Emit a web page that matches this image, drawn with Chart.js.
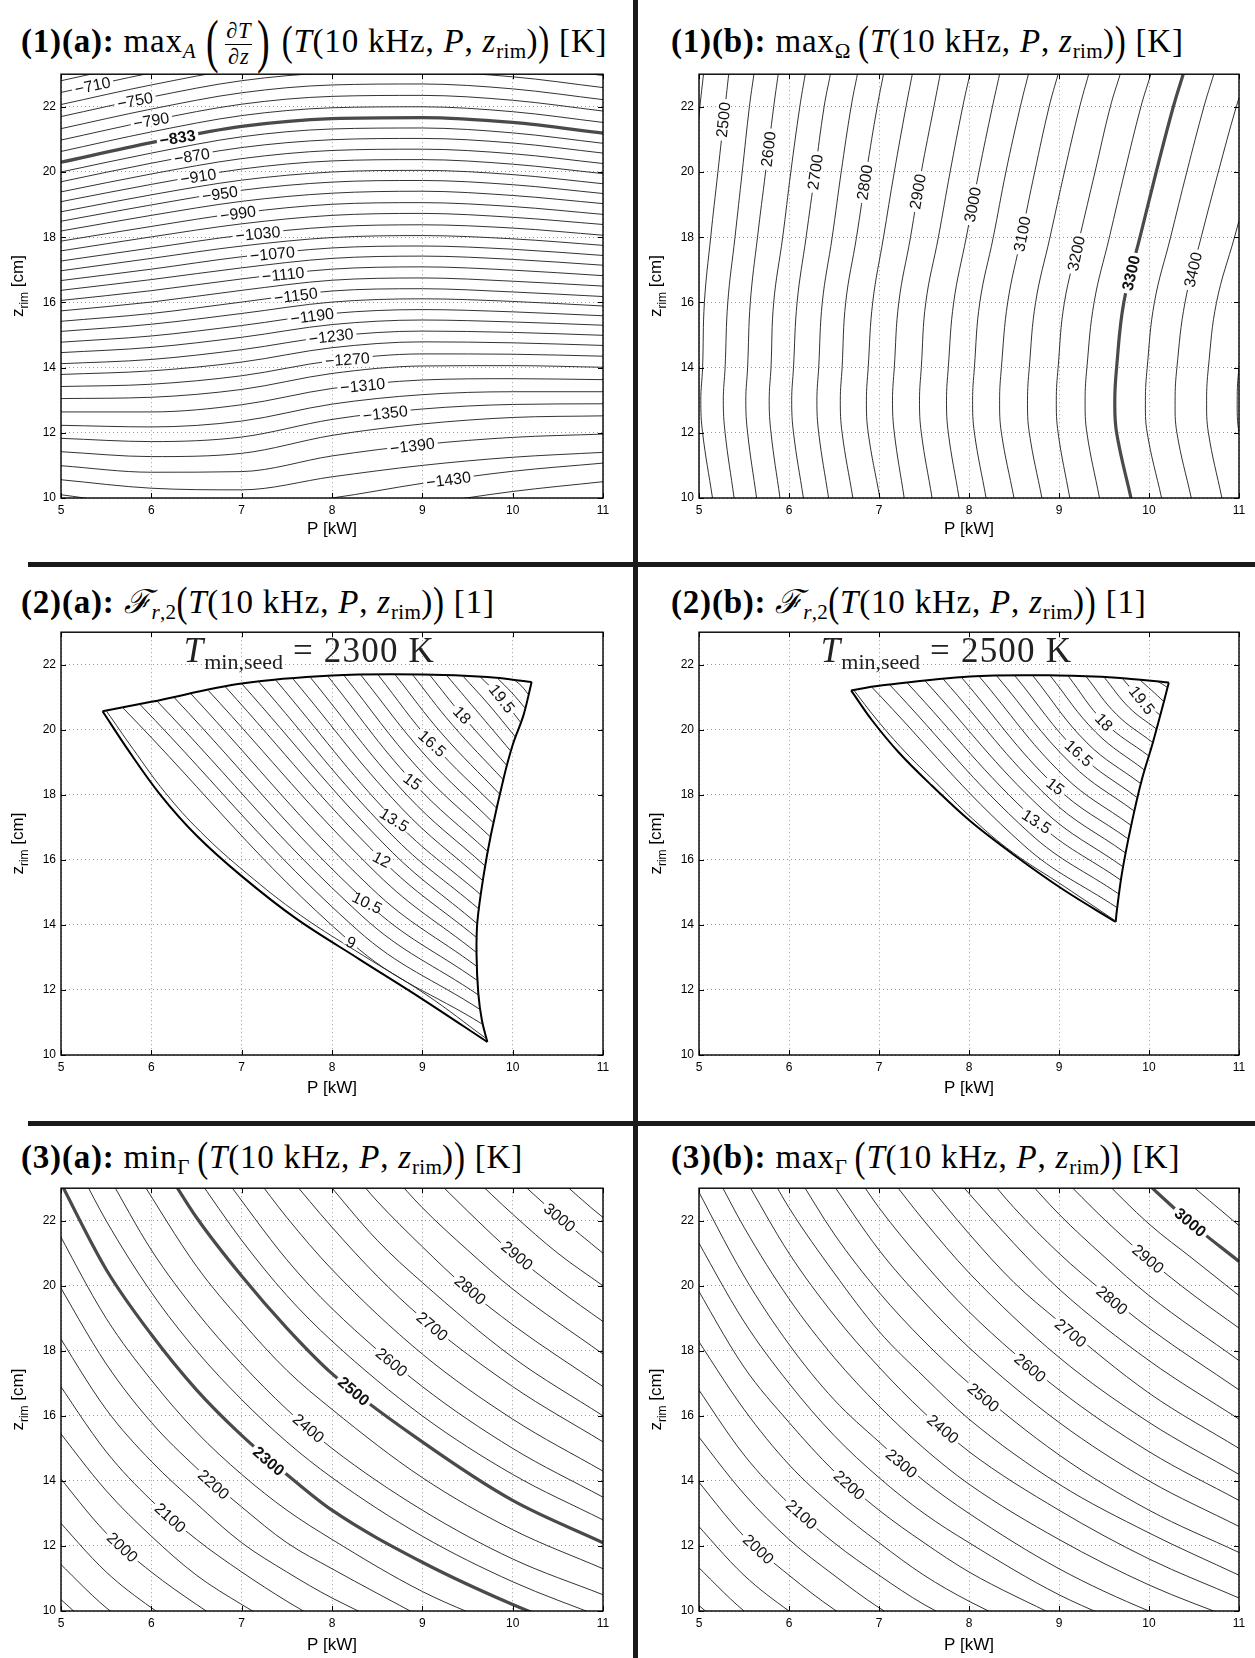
<!DOCTYPE html>
<html>
<head>
<meta charset="utf-8">
<title>Contour panels</title>
<script src="https://cdn.jsdelivr.net/npm/chart.js@4.4.1/dist/chart.umd.min.js"></script>
<style>
  html, body { margin: 0; padding: 0; background: #fff; }
  body { position: relative; width: 1255px; height: 1658px; overflow: hidden; }
  canvas { position: absolute; }
  .sep { position: absolute; background: #1a1a1a; }
  .t { position: absolute; font-family: "Liberation Serif", "DejaVu Serif", serif; font-size: 33px; letter-spacing: 0.8px; line-height: 44px; white-space: nowrap; color: #000; }
  .t sub { font-size: 0.64em; position: relative; top: 0.28em; vertical-align: baseline; line-height: 0; letter-spacing: 0.3px; }
  .bp { display: inline-block; transform: scaleY(1.3); }
  .bpl { display: inline-block; transform: scale(1.15, 1.8); margin: 0 4px; }
  .frac { display: inline-block; vertical-align: middle; text-align: center; font-size: 0.68em; line-height: 1.1; margin: 0 2px; }
  .frac span { display: block; padding: 0 1px; }
  .frac .n { border-bottom: 1px solid #000; }
</style>
</head>
<body>
<div class="sep" style="left:633px;top:0;width:5px;height:1658px"></div>
<div class="sep" style="left:28px;top:562px;width:1227px;height:5px"></div>
<div class="sep" style="left:28px;top:1121px;width:1227px;height:5px"></div>

<div class="t" style="left:21px;top:19px"><b>(1)(a):</b>&nbsp;max<sub><i>A</i></sub>&thinsp;<span class="bpl">(</span><span class="frac"><span class="n"><i>∂T</i></span><span><i>∂z</i></span></span><span class="bpl">)</span>&thinsp;<span class="bp">(</span><i>T</i>(10&nbsp;kHz, <i>P</i>, <i>z</i><sub>rim</sub>)<span class="bp">)</span>&nbsp;[K]</div>
<div class="t" style="left:671px;top:19px"><b>(1)(b):</b>&nbsp;max<sub>Ω</sub>&thinsp;<span class="bp">(</span><i>T</i>(10&nbsp;kHz, <i>P</i>, <i>z</i><sub>rim</sub>)<span class="bp">)</span>&nbsp;[K]</div>
<div class="t" style="left:21px;top:580px"><b>(2)(a):</b>&nbsp;<i>ℱ</i><sub><i>r</i>,2</sub><span class="bp">(</span><i>T</i>(10&nbsp;kHz, <i>P</i>, <i>z</i><sub>rim</sub>)<span class="bp">)</span>&nbsp;[1]</div>
<div class="t" style="left:671px;top:580px"><b>(2)(b):</b>&nbsp;<i>ℱ</i><sub><i>r</i>,2</sub><span class="bp">(</span><i>T</i>(10&nbsp;kHz, <i>P</i>, <i>z</i><sub>rim</sub>)<span class="bp">)</span>&nbsp;[1]</div>
<div class="t" style="left:21px;top:1135px"><b>(3)(a):</b>&nbsp;min<sub>Γ</sub>&thinsp;<span class="bp">(</span><i>T</i>(10&nbsp;kHz, <i>P</i>, <i>z</i><sub>rim</sub>)<span class="bp">)</span>&nbsp;[K]</div>
<div class="t" style="left:671px;top:1135px"><b>(3)(b):</b>&nbsp;max<sub>Γ</sub>&thinsp;<span class="bp">(</span><i>T</i>(10&nbsp;kHz, <i>P</i>, <i>z</i><sub>rim</sub>)<span class="bp">)</span>&nbsp;[K]</div>

<canvas id="c1a" width="630" height="484" style="left:0;top:62px"></canvas>
<canvas id="c1b" width="619" height="484" style="left:636px;top:62px"></canvas>
<canvas id="c2a" width="630" height="483" style="left:0;top:620px"></canvas>
<canvas id="c2b" width="619" height="483" style="left:636px;top:620px"></canvas>
<canvas id="c3a" width="630" height="482" style="left:0;top:1176px"></canvas>
<canvas id="c3b" width="619" height="482" style="left:636px;top:1176px"></canvas>

<script>
// axes, shared by all six panels
const pTicks = [5, 6, 7, 8, 9, 10, 11];
const pTickLabels = ['5', '6', '7', '8', '9', '10', '11'];
const zTicks = [10, 12, 14, 16, 18, 20, 22];
const zTickLabels = ['10', '12', '14', '16', '18', '20', '22'];

// (1)(a) max dT/dz : z_rim at each P station, one row per level
const gradStationsP = [5, 6, 7, 8, 9, 10, 11];
const gradLevels = [-690, -710, -730, -750, -770, -790, -810, -833, -850, -870, -890, -910, -930, -950,
  -970, -990, -1010, -1030, -1050, -1070, -1090, -1110, -1130, -1150, -1170, -1190, -1210, -1230,
  -1250, -1270, -1290, -1310, -1330, -1350, -1370, -1390, -1410, -1430, -1450];
const gradRows = [
  [22.8, 23.4, 23.9, 24.14, 24.17, 24.02, 23.69],
  [22.44, 23.04, 23.54, 23.78, 23.81, 23.66, 23.33],
  [22.07, 22.67, 23.17, 23.41, 23.44, 23.29, 22.96],
  [21.7, 22.3, 22.8, 23.04, 23.07, 22.92, 22.59],
  [21.33, 21.93, 22.43, 22.67, 22.7, 22.55, 22.22],
  [20.98, 21.58, 22.08, 22.32, 22.35, 22.2, 21.87],
  [20.63, 21.23, 21.73, 21.97, 22.0, 21.85, 21.52],
  [20.3, 20.9, 21.4, 21.64, 21.67, 21.52, 21.19],
  [20.0, 20.58, 21.08, 21.32, 21.35, 21.2, 20.88],
  [19.7, 20.27, 20.75, 20.99, 21.03, 20.89, 20.58],
  [19.39, 19.94, 20.41, 20.66, 20.7, 20.56, 20.26],
  [19.09, 19.62, 20.09, 20.34, 20.38, 20.24, 19.95],
  [18.78, 19.3, 19.75, 20.0, 20.05, 19.92, 19.64],
  [18.49, 18.99, 19.44, 19.69, 19.74, 19.61, 19.34],
  [18.19, 18.67, 19.1, 19.35, 19.41, 19.28, 19.03],
  [17.88, 18.33, 18.75, 19.01, 19.06, 18.94, 18.7],
  [17.58, 18.01, 18.41, 18.67, 18.73, 18.61, 18.39],
  [17.27, 17.67, 18.06, 18.32, 18.38, 18.28, 18.06],
  [16.97, 17.35, 17.73, 17.99, 18.05, 17.95, 17.75],
  [16.67, 17.02, 17.4, 17.67, 17.73, 17.63, 17.44],
  [16.37, 16.7, 17.06, 17.35, 17.42, 17.32, 17.14],
  [16.06, 16.36, 16.72, 17.02, 17.09, 16.99, 16.82],
  [15.74, 16.01, 16.37, 16.68, 16.75, 16.65, 16.5],
  [15.42, 15.66, 16.01, 16.35, 16.42, 16.32, 16.18],
  [15.11, 15.33, 15.66, 16.01, 16.11, 16.03, 15.89],
  [14.78, 14.97, 15.29, 15.66, 15.78, 15.71, 15.59],
  [14.46, 14.62, 14.93, 15.32, 15.46, 15.4, 15.3],
  [14.12, 14.25, 14.55, 14.96, 15.12, 15.08, 14.99],
  [13.79, 13.9, 14.17, 14.61, 14.79, 14.76, 14.68],
  [13.42, 13.49, 13.75, 14.21, 14.42, 14.41, 14.35],
  [13.05, 13.09, 13.33, 13.82, 14.05, 14.06, 14.01],
  [12.64, 12.64, 12.86, 13.36, 13.62, 13.66, 13.63],
  [12.23, 12.18, 12.36, 12.88, 13.17, 13.26, 13.26],
  [11.83, 11.73, 11.87, 12.41, 12.73, 12.87, 12.89],
  [11.42, 11.27, 11.37, 11.92, 12.27, 12.47, 12.52],
  [10.99, 10.79, 10.81, 11.29, 11.64, 11.86, 11.96],
  [10.56, 10.3, 10.25, 10.65, 11.0, 11.25, 11.4],
  [10.1, 9.75, 9.7, 10.0, 10.45, 10.82, 11.07],
  [9.6, 9.2, 9.1, 9.4, 9.8, 10.2, 10.5]
];
const gradBold = [-833];
const gradLabels = [
  [5.35, 22.65, '−710'], [5.82, 22.19, '−750'], [6.0, 21.58, '−790'], [6.29, 21.05, '−833'],
  [6.45, 20.49, '−870'], [6.52, 19.86, '−910'], [6.76, 19.33, '−950'], [6.96, 18.73, '−990'],
  [7.18, 18.11, '−1030'], [7.34, 17.49, '−1070'], [7.46, 16.86, '−1110'], [7.6, 16.21, '−1150'],
  [7.78, 15.58, '−1190'], [7.99, 14.96, '−1230'], [8.17, 14.25, '−1270'], [8.34, 13.45, '−1310'],
  [8.59, 12.6, '−1350'], [8.89, 11.6, '−1390'], [9.29, 10.56, '−1430']
];
const gradLabelAngles = [-12, -11, -10, -9, -9, -9, -8.5, -8, -5.5, -5.5, -6, -7, -7.5, -7, -4.5, -5.5, -6.5, -7, -7.5];

// (1)(b) max over Omega : P at each z_rim station, one row per level
const omegaStationsZ = [10, 12, 13, 14, 16, 18, 20, 22, 23];
const omegaLevels = [2450, 2500, 2550, 2600, 2650, 2700, 2750, 2800, 2850, 2900, 2950,
  3000, 3050, 3100, 3150, 3200, 3250, 3300, 3350, 3400, 3450, 3500];
const omegaRows = [
  [4.92, 4.79, 4.77, 4.79, 4.81, 4.87, 4.94, 5.01, 5.05],
  [5.15, 5.04, 5.02, 5.04, 5.06, 5.13, 5.21, 5.29, 5.33],
  [5.39, 5.29, 5.27, 5.29, 5.32, 5.4, 5.48, 5.56, 5.61],
  [5.64, 5.54, 5.52, 5.54, 5.57, 5.65, 5.74, 5.83, 5.88],
  [5.9, 5.8, 5.78, 5.8, 5.83, 5.93, 6.02, 6.12, 6.18],
  [6.16, 6.05, 6.03, 6.05, 6.09, 6.19, 6.29, 6.39, 6.46],
  [6.44, 6.33, 6.31, 6.33, 6.37, 6.48, 6.58, 6.69, 6.76],
  [6.71, 6.59, 6.57, 6.59, 6.63, 6.75, 6.86, 6.98, 7.05],
  [7.01, 6.88, 6.86, 6.88, 6.93, 7.05, 7.17, 7.3, 7.37],
  [7.28, 7.17, 7.15, 7.17, 7.22, 7.35, 7.47, 7.61, 7.68],
  [7.59, 7.47, 7.45, 7.47, 7.52, 7.66, 7.79, 7.93, 8.01],
  [7.89, 7.77, 7.75, 7.77, 7.83, 7.97, 8.11, 8.26, 8.34],
  [8.19, 8.06, 8.04, 8.06, 8.12, 8.27, 8.41, 8.57, 8.66],
  [8.5, 8.36, 8.34, 8.36, 8.43, 8.58, 8.73, 8.89, 8.99],
  [8.81, 8.67, 8.65, 8.67, 8.74, 8.9, 9.06, 9.23, 9.33],
  [9.12, 8.99, 8.97, 8.99, 9.06, 9.23, 9.4, 9.57, 9.68],
  [9.45, 9.31, 9.29, 9.31, 9.39, 9.56, 9.73, 9.91, 10.02],
  [9.8, 9.64, 9.62, 9.64, 9.72, 9.9, 10.08, 10.27, 10.38],
  [10.14, 9.98, 9.96, 9.98, 10.06, 10.24, 10.42, 10.61, 10.72],
  [10.47, 10.31, 10.29, 10.31, 10.4, 10.58, 10.77, 10.97, 11.09],
  [10.81, 10.66, 10.64, 10.66, 10.75, 10.95, 11.15, 11.36, 11.48],
  [11.15, 11.0, 10.98, 11.0, 11.09, 11.29, 11.49, 11.7, 11.82]
];
const omegaBold = [3300];
const omegaLabels = [
  [5.27, 21.6, '2500'], [5.77, 20.7, '2600'], [6.29, 20.0, '2700'], [6.84, 19.68, '2800'],
  [7.43, 19.4, '2900'], [8.04, 19.0, '3000'], [8.59, 18.1, '3100'], [9.19, 17.5, '3200'],
  [9.8, 16.9, '3300'], [10.49, 17.0, '3400']
];
const omegaLabelAngles = [-84, -83, -82, -81, -80, -79, -79, -78, -77, -77];

// (2)(a) F_r,2 with T_min,seed = 2300 K : [P, z_rim] points of each level
const seed2300Temp = 2300;
const seed2300Levels = [8.5, 9, 9.5, 10, 10.5, 11, 11.5, 12, 12.5, 13, 13.5, 14, 14.5, 15, 15.5,
  16, 16.5, 17, 17.5, 18, 18.5, 19, 19.5, 20, 20.5];
const seed2300Lines = [
  [[5.50, 20.59], [5.80, 19.40], [6.15, 18.08], [6.55, 16.85], [7.05, 15.60], [7.65, 14.30], [8.35, 13.05], [9.04, 11.86], [9.71, 10.50]],
  [[5.68, 20.69], [8.21, 13.46], [9.67, 10.94]],
  [[5.87, 20.79], [8.27, 13.87], [9.65, 11.38]],
  [[6.06, 20.89], [8.33, 14.28], [9.63, 11.83]],
  [[6.25, 21.00], [8.39, 14.68], [9.62, 12.27]],
  [[6.44, 21.10], [8.44, 15.12], [9.61, 12.71]],
  [[6.63, 21.21], [8.50, 15.57], [9.60, 13.15]],
  [[6.82, 21.32], [8.55, 16.01], [9.61, 13.59]],
  [[7.00, 21.42], [8.60, 16.42], [9.61, 14.03]],
  [[7.19, 21.47], [8.64, 16.83], [9.63, 14.48]],
  [[7.38, 21.52], [8.69, 17.23], [9.65, 14.92]],
  [[7.57, 21.56], [8.76, 17.62], [9.67, 15.36]],
  [[7.76, 21.61], [8.82, 18.02], [9.70, 15.80]],
  [[7.95, 21.66], [8.89, 18.41], [9.73, 16.24]],
  [[8.13, 21.68], [8.96, 18.80], [9.76, 16.69]],
  [[8.32, 21.68], [9.04, 19.19], [9.79, 17.13]],
  [[8.51, 21.69], [9.11, 19.58], [9.83, 17.57]],
  [[8.70, 21.69], [9.22, 19.87], [9.86, 18.01]],
  [[8.89, 21.70], [9.33, 20.16], [9.90, 18.45]],
  [[9.08, 21.69], [9.44, 20.45], [9.94, 18.89]],
  [[9.27, 21.67], [9.59, 20.62], [9.98, 19.34]],
  [[9.45, 21.65], [9.73, 20.79], [10.03, 19.78]],
  [[9.64, 21.63], [9.88, 20.96], [10.09, 20.22]],
  [[9.83, 21.59], [9.99, 21.14], [10.14, 20.66]],
  [[10.02, 21.53], [10.10, 21.34], [10.17, 21.10]]
];
const seed2300Top = [[5.46, 20.57], [6.0, 20.86], [7.0, 21.42], [8.0, 21.67], [9.0, 21.70], [9.72, 21.62], [10.21, 21.47]];
const seed2300Right = [[10.21, 21.47], [10.12, 20.45], [10.0, 19.53], [9.9, 18.51], [9.76, 16.78], [9.68, 15.55],
  [9.61, 14.12], [9.60, 13.10], [9.62, 11.88], [9.66, 11.06], [9.72, 10.40]];
const seed2300Lower = [[5.46, 20.57], [5.75, 19.35], [6.1, 18.0], [6.5, 16.75], [7.0, 15.5], [7.6, 14.2],
  [8.3, 12.95], [9.0, 11.72], [9.72, 10.40]];
const seed2300Labels = [
  [8.21, 13.46, '9'], [8.39, 14.68, '10.5'], [8.55, 16.01, '12'], [8.69, 17.23, '13.5'],
  [8.89, 18.41, '15'], [9.11, 19.58, '16.5'], [9.44, 20.45, '18'], [9.88, 20.96, '19.5']
];
const seed2300LabelAngles = [24, 26, 28, 32, 37, 42, 47, 52];

// (2)(b) F_r,2 with T_min,seed = 2500 K
const seed2500Temp = 2500;
const seed2500Levels = [12, 12.5, 13, 13.5, 14, 14.5, 15, 15.5, 16, 16.5, 17, 17.5, 18, 18.5, 19, 19.5, 20, 20.5];
const seed2500Lines = [
  [[6.72, 21.22], [6.97, 20.33], [7.29, 19.32], [7.62, 18.41], [8.04, 17.26], [8.48, 16.24], [9.06, 15.18], [9.63, 14.12]],
  [[6.92, 21.31], [8.60, 16.47], [9.65, 14.52]],
  [[7.12, 21.38], [8.67, 16.83], [9.67, 14.94]],
  [[7.31, 21.45], [8.75, 17.18], [9.69, 15.37]],
  [[7.51, 21.51], [8.82, 17.54], [9.71, 15.79]],
  [[7.71, 21.57], [8.89, 17.90], [9.74, 16.21]],
  [[7.91, 21.63], [8.96, 18.26], [9.77, 16.64]],
  [[8.11, 21.65], [9.05, 18.59], [9.80, 17.06]],
  [[8.31, 21.65], [9.14, 18.94], [9.84, 17.49]],
  [[8.51, 21.66], [9.22, 19.28], [9.87, 17.91]],
  [[8.71, 21.66], [9.31, 19.60], [9.91, 18.34]],
  [[8.90, 21.67], [9.41, 19.92], [9.95, 18.76]],
  [[9.10, 21.66], [9.50, 20.24], [10.00, 19.19]],
  [[9.30, 21.64], [9.64, 20.47], [10.04, 19.61]],
  [[9.50, 21.62], [9.78, 20.68], [10.08, 20.03]],
  [[9.70, 21.59], [9.92, 20.91], [10.12, 20.46]],
  [[9.90, 21.53], [10.03, 21.21], [10.16, 20.88]],
  [[10.10, 21.48], [10.15, 21.40], [10.20, 21.31]]
];
const seed2500Top = [[6.69, 21.21], [7.0, 21.35], [8.01, 21.64], [9.0, 21.67], [9.64, 21.6], [10.22, 21.45]];
const seed2500Right = [[10.22, 21.45], [10.16, 20.81], [10.04, 19.58], [9.92, 18.46], [9.8, 17.03], [9.7, 15.6], [9.64, 14.38], [9.63, 14.09]];
const seed2500Lower = [[6.69, 21.21], [6.92, 20.3], [7.22, 19.3], [7.58, 18.3], [8.01, 17.2], [8.5, 16.15], [9.05, 15.08], [9.63, 14.09]];
const seed2500Labels = [[8.75, 17.18, '13.5'], [8.96, 18.26, '15'], [9.22, 19.28, '16.5'], [9.50, 20.24, '18'], [9.92, 20.91, '19.5']];
const seed2500LabelAngles = [33, 38, 42, 47, 52];

// (3)(a) min over Gamma : [P, z_rim] points of each level
const minGammaLevels = [1850, 1900, 1950, 2000, 2050, 2100, 2150, 2200, 2250, 2300, 2350, 2400, 2450,
  2500, 2550, 2600, 2650, 2700, 2750, 2800, 2850, 2900, 2950, 3000, 3050];
const minGammaLines = [
  [[4.9, 10.6], [5.5, 9.1]],
  [[4.9, 11.7], [5.5, 10.1], [6, 9.1]],
  [[4.9, 13.0], [5.5, 11.2], [6, 10.1], [6.5, 9.2]],
  [[4.9, 14.4], [5.5, 12.4], [6, 11.2], [6.5, 10.2], [7, 9.3]],
  [[4.9, 15.8], [5.5, 13.7], [6, 12.3], [6.5, 11.1], [7, 10.2], [7.5, 9.4]],
  [[4.9, 17.3], [5.5, 14.9], [6, 13.4], [6.5, 12.2], [7, 11.2], [7.5, 10.3], [8, 9.5]],
  [[4.9, 18.8], [5.5, 16.2], [6, 14.6], [6.5, 13.3], [7, 12.1], [7.5, 11.2], [8, 10.4], [9, 9.1]],
  [[4.9, 20.4], [5.5, 17.6], [6, 15.8], [6.5, 14.4], [7, 13.2], [7.5, 12.1], [8, 11.3], [9, 9.8]],
  [[4.9, 22.0], [5.5, 19.0], [6, 17.1], [6.5, 15.5], [7, 14.2], [7.5, 13.1], [8, 12.2], [9, 10.6], [10, 9.4]],
  [[4.9, 23.7], [5.5, 20.5], [6, 18.5], [6.5, 16.8], [7, 15.4], [7.5, 14.2], [8, 13.1], [9, 11.5], [10, 10.2], [11, 9.1]],
  [[5.23, 23.4], [5.5, 22.0], [6, 19.8], [6.5, 18.0], [7, 16.5], [7.5, 15.2], [8, 14.1], [9, 12.3], [10, 10.9], [11, 9.8]],
  [[5.52, 23.4], [6, 21.1], [6.5, 19.2], [7, 17.6], [7.5, 16.2], [8, 15.0], [9, 13.1], [10, 11.6], [11, 10.5]],
  [[5.85, 23.4], [6.5, 20.6], [7, 18.9], [7.5, 17.4], [8, 16.2], [9, 14.1], [10, 12.5], [11, 11.3]],
  [[6.2, 23.4], [6.5, 22.1], [7, 20.3], [7.5, 18.7], [8, 17.3], [9, 15.2], [10, 13.4], [11, 12.1]],
  [[6.49, 23.4], [7, 21.4], [7.5, 19.7], [8, 18.3], [9, 16.0], [10, 14.2], [11, 12.8]],
  [[6.79, 23.4], [7.5, 20.8], [8, 19.3], [9, 16.9], [10, 15.0], [11, 13.5]],
  [[7.14, 23.4], [7.5, 22.1], [8, 20.5], [9, 17.9], [10, 15.9], [11, 14.3]],
  [[7.51, 23.4], [8, 21.8], [8.5, 20.3], [9, 19.0], [10, 16.9], [11, 15.2]],
  [[7.88, 23.4], [8.5, 21.4], [9, 20.1], [10, 17.8], [11, 16.0]],
  [[8.25, 23.4], [8.5, 22.6], [9, 21.2], [9.5, 19.9], [10, 18.8], [11, 16.9]],
  [[8.67, 23.4], [9, 22.4], [9.5, 21.1], [10, 19.9], [11, 17.9]],
  [[9.1, 23.4], [9.5, 22.3], [10, 21.0], [10.5, 19.9], [11, 18.9]],
  [[9.54, 23.4], [10, 22.2], [10.5, 21.0], [11, 20.0]],
  [[10.0, 23.4], [10.5, 22.15], [11, 21.0]],
  [[10.46, 23.4], [11, 22.1], [11.2, 21.7]]
];
const minGammaBold = [2300, 2500];
const minGammaLabels = [
  [5.68, 11.96, '2000'], [6.21, 12.87, '2100'], [6.69, 13.89, '2200'], [7.3, 14.61, '2300'],
  [7.74, 15.62, '2400'], [8.24, 16.76, '2500'], [8.66, 17.65, '2600'], [9.11, 18.75, '2700'],
  [9.53, 19.87, '2800'], [10.05, 20.93, '2900'], [10.52, 22.1, '3000']
];
const minGammaLabelAngles = [43, 42, 42, 40.5, 40.5, 40.5, 40, 40, 40.5, 40, 40];

// (3)(b) max over Gamma
const maxGammaLevels = [1850, 1900, 1950, 2000, 2050, 2100, 2150, 2200, 2250, 2300, 2350, 2400, 2450,
  2500, 2550, 2600, 2650, 2700, 2750, 2800, 2850, 2900, 2950, 3000, 3050];
const maxGammaLines = [
  [[4.9, 10.4], [5.5, 9.0]],
  [[4.9, 11.6], [5.5, 10.0], [6, 9.0]],
  [[4.9, 12.9], [5.5, 11.1], [6, 10.0], [6.5, 9.1]],
  [[4.9, 14.3], [5.5, 12.3], [6, 11.1], [6.5, 10.05], [7, 9.2]],
  [[4.9, 15.7], [5.5, 13.6], [6, 12.2], [6.5, 11.1], [7, 10.1], [7.5, 9.3]],
  [[4.9, 17.2], [5.5, 14.8], [6, 13.3], [6.5, 12.1], [7, 11.1], [7.5, 10.2], [8, 9.5]],
  [[4.9, 18.7], [5.5, 16.2], [6, 14.5], [6.5, 13.2], [7, 12.1], [7.5, 11.1], [8, 10.3], [9, 9.0]],
  [[4.9, 20.3], [5.5, 17.5], [6, 15.8], [6.5, 14.3], [7, 13.1], [7.5, 12.1], [8, 11.2], [9, 9.8]],
  [[4.9, 21.8], [5.5, 18.9], [6, 17.0], [6.5, 15.4], [7, 14.1], [7.5, 13.0], [8, 12.1], [9, 10.5], [10, 9.3]],
  [[4.9, 23.4], [5.5, 20.3], [6, 18.2], [6.5, 16.5], [7, 15.2], [7.5, 14.0], [8, 13.0], [9, 11.3], [10, 10.0], [11, 9.0]],
  [[5.19, 23.4], [5.5, 21.8], [6, 19.6], [6.5, 17.8], [7, 16.3], [7.5, 15.0], [8, 13.9], [9, 12.2], [10, 10.8], [11, 9.7]],
  [[5.49, 23.4], [6, 21.0], [6.5, 19.1], [7, 17.5], [7.5, 16.1], [8, 14.9], [9, 13.1], [10, 11.6], [11, 10.4]],
  [[5.79, 23.4], [6, 22.4], [6.5, 20.4], [7, 18.6], [7.5, 17.2], [8, 15.9], [9, 13.9], [10, 12.4], [11, 11.1]],
  [[6.09, 23.4], [6.5, 21.6], [7, 19.8], [7.5, 18.3], [8, 17.0], [9, 14.8], [10, 13.1], [11, 11.8]],
  [[6.42, 23.4], [7, 21.1], [7.5, 19.5], [8, 18.1], [9, 15.8], [10, 14.0], [11, 12.6]],
  [[6.75, 23.4], [7, 22.4], [7.5, 20.7], [8, 19.2], [9, 16.8], [10, 14.9], [11, 13.4]],
  [[7.1, 23.4], [7.5, 22.0], [8, 20.4], [9, 17.8], [10, 15.8], [11, 14.2]],
  [[7.46, 23.4], [8, 21.6], [8.5, 20.1], [9, 18.9], [10, 16.7], [11, 15.0]],
  [[7.82, 23.4], [8.5, 21.3], [9, 19.9], [10, 17.7], [11, 15.9]],
  [[8.19, 23.4], [8.5, 22.4], [9, 21.0], [9.5, 19.8], [10, 18.7], [11, 16.8]],
  [[8.6, 23.4], [9, 22.2], [9.5, 20.9], [10, 19.7], [11, 17.7]],
  [[9.01, 23.4], [9.5, 22.05], [10, 20.8], [10.5, 19.7], [11, 18.7]],
  [[9.44, 23.4], [10, 21.9], [10.5, 20.8], [11, 19.7]],
  [[9.88, 23.4], [10.5, 21.85], [11, 20.75]],
  [[10.34, 23.4], [11, 21.85], [11.2, 21.4]]
];
const maxGammaBold = [3000];
const maxGammaLabels = [
  [5.66, 11.9, '2000'], [6.14, 12.97, '2100'], [6.67, 13.87, '2200'], [7.25, 14.54, '2300'],
  [7.71, 15.6, '2400'], [8.16, 16.57, '2500'], [8.68, 17.48, '2600'], [9.13, 18.55, '2700'],
  [9.59, 19.56, '2800'], [9.99, 20.83, '2900'], [10.46, 21.95, '3000']
];
const maxGammaLabelAngles = [43, 42, 42, 40.5, 40.5, 40.5, 40, 40, 40.5, 40, 40];

// ---------------------------------------------------------------------------
const SANS = '"Liberation Sans", Arial, sans-serif';
const SERIF = '"Liberation Serif", "DejaVu Serif", serif';

function lineSet(pts, bold, mode) {
  return {
    data: pts.map(([p, z]) => ({ x: p, y: z })),
    showLine: true,
    pointRadius: 0,
    borderColor: bold ? '#4a4a4a' : '#1c1c1c',
    borderWidth: bold ? 3.2 : 0.9,
    tension: mode === 'monotone' ? 0 : 0.4,
    cubicInterpolationMode: mode === 'monotone' ? 'monotone' : 'default',
    clip: 0
  };
}

function edgeSet(pts) {
  return {
    data: pts.map(([p, z]) => ({ x: p, y: z })),
    showLine: true, pointRadius: 0,
    borderColor: '#000', borderWidth: 2, tension: 0.35, clip: 0
  };
}

const framePlugin = {
  id: 'frame',
  afterDatasetsDraw(chart, args, o) {
    const { ctx, chartArea: a, scales: { x, y } } = chart;
    ctx.save();
    ctx.beginPath();
    ctx.rect(a.left, a.top, a.right - a.left, a.bottom - a.top);
    ctx.clip();
    (o.labels || []).forEach(([p, z, text], i) => {
      const bold = (o.bold || []).map(String).includes(text.replace('−', '-'));
      ctx.save();
      ctx.translate(x.getPixelForValue(p), y.getPixelForValue(z));
      ctx.rotate((o.angles[i] || 0) * Math.PI / 180);
      ctx.font = (bold ? 'bold ' : '') + '16px ' + SANS;
      const w = ctx.measureText(text).width;
      ctx.fillStyle = '#fff';
      ctx.fillRect(-w / 2 - 3, -4, w + 6, 8);
      ctx.fillStyle = '#111';
      ctx.textAlign = 'center';
      ctx.textBaseline = 'middle';
      ctx.fillText(text, 0, 1);
      ctx.restore();
    });
    if (o.note) {
      // T_min,seed = .... K, written inside the plot near the top
      const parts = [
        ['italic 35px ' + SERIF, 'T', 0, '1px'],
        ['22px ' + SERIF, 'min,seed', 7, '0px'],
        ['35px ' + SERIF, ' = ' + o.note.temp + ' K', 0, '1.2px']
      ];
      let total = 0;
      parts.forEach(pt => { ctx.font = pt[0]; ctx.letterSpacing = pt[3]; pt.push(ctx.measureText(pt[1]).width); total += pt[4]; });
      let cx = x.getPixelForValue(o.note.p) - total / 2;
      const by = y.getPixelForValue(o.note.z);
      ctx.fillStyle = '#222';
      ctx.textBaseline = 'alphabetic';
      ctx.textAlign = 'left';
      parts.forEach(([font, txt, dy, ls, w]) => { ctx.font = font; ctx.letterSpacing = ls; ctx.fillText(txt, cx, by + dy); cx += w; });
      ctx.letterSpacing = '0px';
    }
    ctx.restore();
  },
  afterDraw(chart, args, o) {
    const { ctx, chartArea: a, scales: { x, y } } = chart;
    ctx.save();
    ctx.strokeStyle = '#000';
    ctx.lineWidth = 1;
    ctx.beginPath();
    pTicks.forEach(v => {
      const px = Math.round(x.getPixelForValue(v)) + 0.5;
      ctx.moveTo(px, a.bottom); ctx.lineTo(px, a.bottom - 5);
      ctx.moveTo(px, a.top); ctx.lineTo(px, a.top + 5);
    });
    zTicks.forEach(v => {
      const py = Math.round(y.getPixelForValue(v)) + 0.5;
      ctx.moveTo(a.left, py); ctx.lineTo(a.left + 5, py);
      ctx.moveTo(a.right, py); ctx.lineTo(a.right - 5, py);
    });
    ctx.stroke();
    ctx.lineWidth = 1.4;
    ctx.strokeRect(a.left, a.top, a.right - a.left, a.bottom - a.top);

    ctx.fillStyle = '#000';
    ctx.font = '17px ' + SANS;
    ctx.textAlign = 'center';
    ctx.textBaseline = 'middle';
    ctx.fillText('P [kW]', (a.left + a.right) / 2, a.bottom + o.xGap);

    ctx.translate(a.left - 44, (a.top + a.bottom) / 2);
    ctx.rotate(-Math.PI / 2);
    ctx.textAlign = 'left';
    ctx.textBaseline = 'alphabetic';
    const seg = [['17px ' + SANS, 'z', 0], ['12px ' + SANS, 'rim', 5], ['17px ' + SANS, ' [cm]', 0]];
    let tw = 0;
    seg.forEach(s => { ctx.font = s[0]; s.push(ctx.measureText(s[1]).width); tw += s[3]; });
    let sx = -tw / 2;
    seg.forEach(([f, t, dy, w]) => { ctx.font = f; ctx.fillText(t, sx, 6 + dy); sx += w; });
    ctx.restore();
  }
};

function axis(min, max, ticks, labels, fit) {
  return {
    type: 'linear', min, max,
    afterBuildTicks: s => { s.ticks = ticks.map(v => ({ value: v })); },
    afterFit: fit,
    grid: { color: '#9c9c9c', lineWidth: 1, drawTicks: false },
    border: { display: false, dash: [1, 3] },
    ticks: {
      color: '#000', padding: 5, autoSkip: false, maxRotation: 0,
      font: { size: 12, family: SANS },
      callback: (v, i) => labels[i]
    }
  };
}

function makeChart(id, datasets, frame, yw, xh, pad) {
  return new Chart(document.getElementById(id), {
    type: 'scatter',
    data: { datasets },
    options: {
      responsive: false, animation: false, devicePixelRatio: 1, events: [],
      layout: { padding: pad },
      elements: { line: { capBezierPoints: false }, point: { radius: 0 } },
      plugins: { legend: { display: false }, tooltip: { enabled: false }, frame },
      scales: {
        x: axis(5, 11, pTicks, pTickLabels, s => { s.height = xh; }),
        y: axis(10, 23, zTicks, zTickLabels, s => { s.width = yw; })
      }
    },
    plugins: [framePlugin]
  });
}

// (1)(a)
makeChart('c1a',
  gradRows.map((row, i) => lineSet(row.map((z, j) => [gradStationsP[j], z]), gradBold.includes(gradLevels[i]), 'monotone')),
  { labels: gradLabels, angles: gradLabelAngles, bold: gradBold, xGap: 31 },
  61, 48, { top: 9, right: 27, bottom: 0, left: 0 });

// (1)(b)
makeChart('c1b',
  omegaRows.map((row, i) => lineSet(row.map((p, j) => [p, omegaStationsZ[j]]), omegaBold.includes(omegaLevels[i]), 'bezier')),
  { labels: omegaLabels, angles: omegaLabelAngles, bold: omegaBold, xGap: 31 },
  63, 48, { top: 9, right: 16, bottom: 0, left: 0 });

// (2)(a)
makeChart('c2a',
  seed2300Lines.map(pts => lineSet(pts, false, 'bezier'))
    .concat([edgeSet(seed2300Top), edgeSet(seed2300Right), edgeSet(seed2300Lower)]),
  { labels: seed2300Labels, angles: seed2300LabelAngles, bold: [], xGap: 33, note: { p: 7.75, z: 22.08, temp: seed2300Temp } },
  61, 48, { top: 11, right: 27, bottom: 0, left: 0 });

// (2)(b)
makeChart('c2b',
  seed2500Lines.map(pts => lineSet(pts, false, 'bezier'))
    .concat([edgeSet(seed2500Top), edgeSet(seed2500Right), edgeSet(seed2500Lower)]),
  { labels: seed2500Labels, angles: seed2500LabelAngles, bold: [], xGap: 33, note: { p: 7.75, z: 22.08, temp: seed2500Temp } },
  63, 48, { top: 11, right: 16, bottom: 0, left: 0 });

// (3)(a)
makeChart('c3a',
  minGammaLines.map((pts, i) => lineSet(pts, minGammaBold.includes(minGammaLevels[i]), 'monotone')),
  { labels: minGammaLabels, angles: minGammaLabelAngles, bold: minGammaBold, xGap: 34 },
  61, 47, { top: 11, right: 27, bottom: 0, left: 0 });

// (3)(b)
makeChart('c3b',
  maxGammaLines.map((pts, i) => lineSet(pts, maxGammaBold.includes(maxGammaLevels[i]), 'monotone')),
  { labels: maxGammaLabels, angles: maxGammaLabelAngles, bold: maxGammaBold, xGap: 34 },
  63, 47, { top: 11, right: 16, bottom: 0, left: 0 });
</script>
</body>
</html>
